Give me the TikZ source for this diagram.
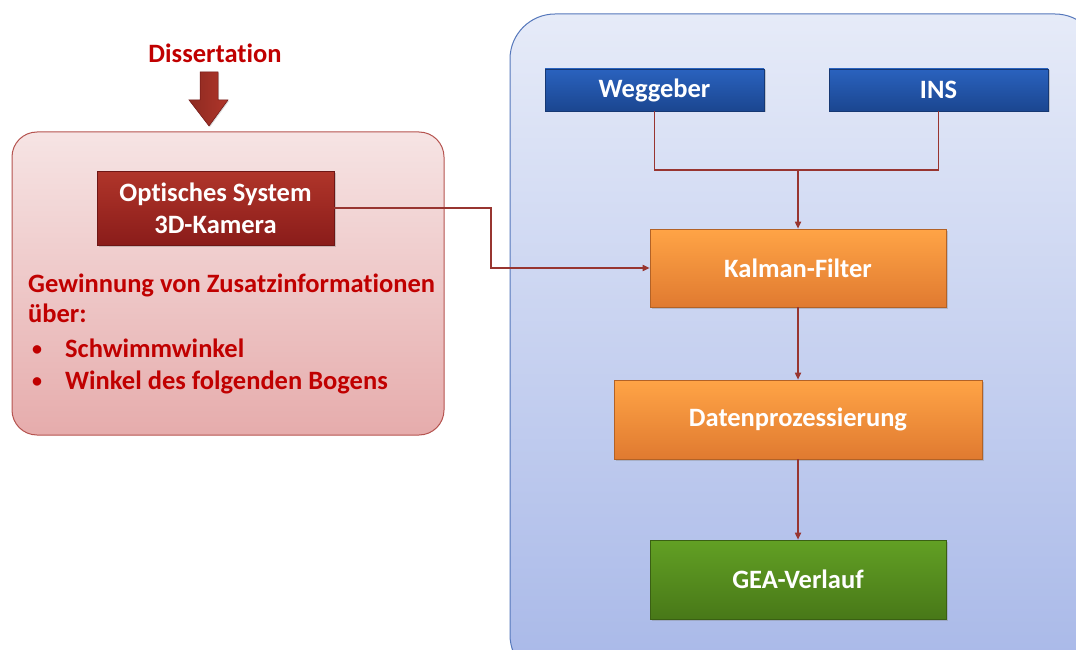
\documentclass[tikz,border=0pt]{standalone}
\usepackage{fontspec}
\setmainfont{Carlito}[Ligatures=NoCommon]
\usetikzlibrary{arrows.meta,shadows}

\definecolor{dissred}{HTML}{C00000}
\definecolor{linered}{HTML}{983530}
\definecolor{roseTop}{HTML}{F6E4E4}
\definecolor{roseBot}{HTML}{E6ACAC}
\definecolor{roseLine}{HTML}{B5534F}
\definecolor{wineTop}{HTML}{B0352A}
\definecolor{wineBot}{HTML}{8A1C1A}
\definecolor{paneTop}{HTML}{E6EBF8}
\definecolor{paneBot}{HTML}{A8B8E8}
\definecolor{paneLine}{HTML}{5577BB}
\definecolor{blueTop}{HTML}{2A62BE}
\definecolor{blueBot}{HTML}{1B4690}
\definecolor{orngTop}{HTML}{FFA446}
\definecolor{orngBot}{HTML}{E07A30}
\definecolor{grnTop}{HTML}{62A024}
\definecolor{grnBot}{HTML}{487818}

\tikzset{
  blocktext/.style={font=\fontsize{26.5}{32}\selectfont\bfseries, text=white},
  block/.style={blocktext, draw=#1Bot!80!black, line width=0.6pt,
    top color=#1Top, bottom color=#1Bot, inner sep=0pt,
    drop shadow={opacity=0.35, shadow xshift=1.5pt, shadow yshift=-1.5pt}},
  flow/.style={draw=linered, line width=1.6pt, -{Triangle[length=7pt,width=6pt]}},
  redtext/.style={font=\fontsize{26.5}{32}\selectfont\bfseries, text=dissred, inner sep=0pt},
}

\begin{document}
\begin{tikzpicture}[x=1pt, y=-1pt]
    \useasboundingbox (0,0) rectangle (1076,650);

    % panels
    \draw [paneLine, line width=1pt, top color=paneTop, bottom color=paneBot, rounded corners=45pt]
        (510,14) rectangle (1100,680);
    \draw [roseLine, line width=1pt, top color=roseTop, bottom color=roseBot, rounded corners=25pt]
        (12,132) rectangle (444,435);

    % Dissertation arrow
    \node [redtext] (diss) at (215,53) {Dissertation};
    \draw [wineBot!80!black, line width=0.5pt, left color=wineTop!80!black, right color=wineTop,
        drop shadow={opacity=0.3, shadow xshift=1pt, shadow yshift=-1pt}]
        (200,72) -- (218,72) -- (218,100) -- (228,100) -- (209,126) -- (189,100) -- (200,100) -- cycle;

    % left boxes
    \node [block=wine, minimum width=237pt, minimum height=74pt, align=center] (cam) at (215.5,208)
        {Optisches System\\3D-Kamera};
    \node [redtext, anchor=base west] (gain) at (28,292) {Gewinnung von Zusatzinformationen};
    \node [redtext, anchor=base west] (over) at (28,322) {über:};
    \node [redtext, anchor=base west] (sw) at (65,357) {Schwimmwinkel};
    \node [redtext, anchor=base west] (wb) at (65,389) {Winkel des folgenden Bogens};
    \node [redtext, anchor=base, font=\fontsize{20}{24}\selectfont\bfseries] at (37,355) {•};
    \node [redtext, anchor=base, font=\fontsize{20}{24}\selectfont\bfseries] at (37,387) {•};

    % right boxes
    \node [block=blue, minimum width=219pt, minimum height=42pt] (weg) at (654.5,90) {Weggeber};
    \node [block=blue, minimum width=219pt, minimum height=42pt] (ins) at (938.5,90) {INS};
    \node [block=orng, minimum width=296pt, minimum height=78pt] (kal) at (798,268) {Kalman-Filter};
    \node [block=orng, minimum width=368pt, minimum height=79pt] (dat) at (798,419.5) {Datenprozessierung};
    \node [block=grn, minimum width=296pt, minimum height=79pt] (gea) at (798,579.5) {GEA-Verlauf};

    % connectors
    \coordinate (join) at (798,170);
    \draw [linered, line width=1.6pt] (weg.south) |- (join) -| (ins.south);
    \draw [flow] (join) -- (kal.north);
    \draw [flow] (cam.east) -| (491,268) -- (kal.west);
    \draw [flow] (kal.south) -- (dat.north);
    \draw [flow] (dat.south) -- (gea.north);
\end{tikzpicture}
\end{document}
